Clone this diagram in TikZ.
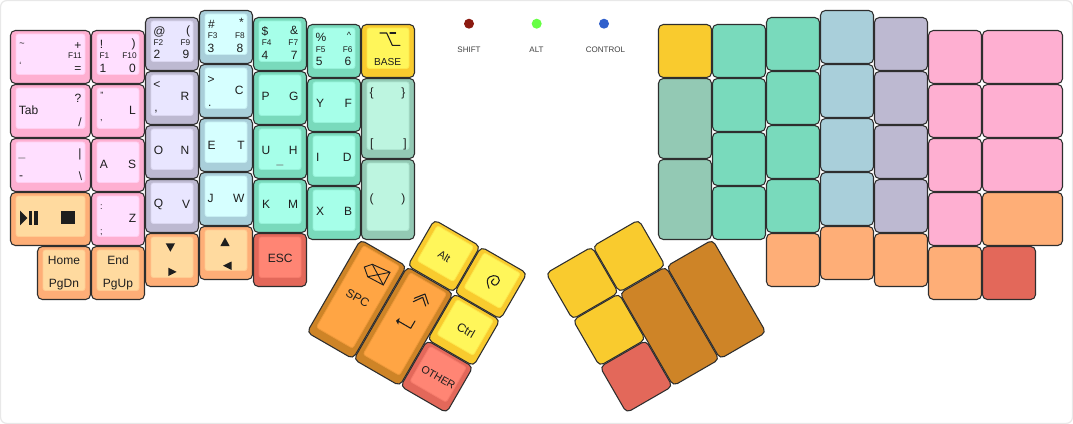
\documentclass[tikz,border=0pt]{standalone}
\usepackage{fontspec}
\setmainfont{Liberation Sans}
\definecolor{pinkO}{HTML}{FEAFD1}\definecolor{pinkI}{HTML}{FFDFFF}
\definecolor{lavO}{HTML}{BDB9D1}\definecolor{lavI}{HTML}{E9E6FF}
\definecolor{bluO}{HTML}{A9CFDA}\definecolor{bluI}{HTML}{D6FFFF}
\definecolor{teaO}{HTML}{79DABC}\definecolor{teaI}{HTML}{A6FFE9}
\definecolor{greO}{HTML}{93C9B4}\definecolor{greI}{HTML}{BDF5E0}
\definecolor{oraO}{HTML}{FEAE77}\definecolor{oraI}{HTML}{FFDA9F}
\definecolor{yelO}{HTML}{F9CB2E}\definecolor{yelI}{HTML}{FFF65A}
\definecolor{redO}{HTML}{E3685A}\definecolor{redI}{HTML}{FF8574}
\definecolor{droO}{HTML}{CE8427}\definecolor{droI}{HTML}{FFA544}
\definecolor{edge}{HTML}{2E2E2E}
\definecolor{ink}{HTML}{1E1E1E}
\definecolor{dotshift}{HTML}{8B1A10}
\definecolor{dotalt}{HTML}{66FF44}
\definecolor{dotctl}{HTML}{3060CC}
\tikzset{
 keybody/.style={draw=edge,line width=0.8pt,rounded corners=3.6pt},
 keycap/.style={rounded corners=1.8pt,line width=0.6pt},
 lbl/.style={inner sep=0pt,text=ink,font=\fontsize{9}{10}\selectfont},
 lbs/.style={inner sep=0pt,text=ink,font=\fontsize{6.2}{7}\selectfont},
 lbt/.style={inner sep=0pt,text=ink,font=\fontsize{6.8}{8}\selectfont},
 lbg/.style={inner sep=0pt,text=black!75,font=\fontsize{6}{7}\selectfont},
 lbf/.style={inner sep=0pt,text=black!55,font=\fontsize{9}{10}\selectfont},
 lbo/.style={inner sep=0pt,text=ink,font=\fontsize{8}{9}\selectfont},
 glyph/.style={line width=0.8pt,draw=ink,line cap=round,line join=round},
}
\newcount\lbc
\newcommand\capbody[3]{%
 \path[keybody,fill=#3O] (0.5,0.5) rectangle (#1-0.5,#2-0.5);
 \path[keycap,fill=#3I,draw=#3I!65!#3O] (6,4) rectangle (#1-6,#2-9.5);
}
\newcommand\plainbody[3]{\path[keybody,fill=#3O] (0.5,0.5) rectangle (#1-0.5,#2-0.5);}
\newcommand\rk[5]{\begin{scope}[shift={(#1,#2)}]\capbody{#3}{#4}{#5}\end{scope}}
\newcommand\rp[5]{\begin{scope}[shift={(#1,#2)}]\plainbody{#3}{#4}{#5}\end{scope}}
\newcommand\tk[5]{\begin{scope}[shift={(#1,#2)},rotate=-30,shift={(-#3/2,-#4/2)}]\capbody{#3}{#4}{#5}\end{scope}}
\newcommand\tp[5]{\begin{scope}[shift={(#1,#2)},rotate=30,shift={(-#3/2,-#4/2)}]\plainbody{#3}{#4}{#5}\end{scope}}
\newcommand\lb[4][lbl]{\global\advance\lbc by 1\node[#1] (n\the\lbc) at (#2,#3) {#4};}
\newcommand\tl[4][lbl]{\global\advance\lbc by 1\node[#1,rotate=-30] (n\the\lbc) at (#2,#3) {#4};}
\begin{document}
\begin{tikzpicture}[x=0.75pt,y=-0.75pt]
\useasboundingbox (0,0) rectangle (1073,424);
\path[fill=white,draw=black!9,line width=0.9pt,rounded corners=4.5pt] (0.6,0.6) rectangle (1072.4,423.4);
% left hand
\rk{10}{30}{81}{54}{pink}\rk{10}{84}{81}{54}{pink}\rk{10}{138}{81}{54}{pink}\rk{10}{192}{81}{54}{ora}
\rk{91}{30}{54}{54}{pink}\rk{91}{84}{54}{54}{pink}\rk{91}{138}{54}{54}{pink}\rk{91}{192}{54}{54}{pink}
\rk{37}{246}{54}{54}{ora}\rk{91}{246}{54}{54}{ora}
\rk{145}{17}{54}{54}{lav}\rk{145}{71}{54}{54}{lav}\rk{145}{125}{54}{54}{lav}\rk{145}{179}{54}{54}{lav}\rk{145}{233}{54}{54}{ora}
\rk{199}{10}{54}{54}{blu}\rk{199}{64}{54}{54}{blu}\rk{199}{118}{54}{54}{blu}\rk{199}{172}{54}{54}{blu}\rk{199}{226}{54}{54}{ora}
\rk{253}{17}{54}{54}{tea}\rk{253}{71}{54}{54}{tea}\rk{253}{125}{54}{54}{tea}\rk{253}{179}{54}{54}{tea}\rk{253}{233}{54}{54}{red}
\rk{307}{24}{54}{54}{tea}\rk{307}{78}{54}{54}{tea}\rk{307}{132}{54}{54}{tea}\rk{307}{186}{54}{54}{tea}
\rk{361}{24}{54}{54}{yel}\rk{361}{78}{54}{81}{gre}\rk{361}{159}{54}{81}{gre}
% left thumb
\tk{356.7}{299.3}{54}{108}{dro}\tk{403.5}{326.3}{54}{108}{dro}
\tk{444}{256}{54}{54}{yel}\tk{490.8}{283}{54}{54}{yel}\tk{463.8}{329.8}{54}{54}{yel}\tk{436.8}{376.6}{54}{54}{red}
% right hand
\rp{658}{24}{54}{54}{yel}\rp{658}{78}{54}{81}{gre}\rp{658}{159}{54}{81}{gre}
\rp{712}{24}{54}{54}{tea}\rp{712}{78}{54}{54}{tea}\rp{712}{132}{54}{54}{tea}\rp{712}{186}{54}{54}{tea}
\rp{766}{17}{54}{54}{tea}\rp{766}{71}{54}{54}{tea}\rp{766}{125}{54}{54}{tea}\rp{766}{179}{54}{54}{tea}\rp{766}{233}{54}{54}{ora}
\rp{820}{10}{54}{54}{blu}\rp{820}{64}{54}{54}{blu}\rp{820}{118}{54}{54}{blu}\rp{820}{172}{54}{54}{blu}\rp{820}{226}{54}{54}{ora}
\rp{874}{17}{54}{54}{lav}\rp{874}{71}{54}{54}{lav}\rp{874}{125}{54}{54}{lav}\rp{874}{179}{54}{54}{lav}\rp{874}{233}{54}{54}{ora}
\rp{928}{30}{54}{54}{pink}\rp{928}{84}{54}{54}{pink}\rp{928}{138}{54}{54}{pink}\rp{928}{192}{54}{54}{pink}\rp{928}{246}{54}{54}{ora}
\rp{982}{30}{81}{54}{pink}\rp{982}{84}{81}{54}{pink}\rp{982}{138}{81}{54}{pink}\rp{982}{192}{81}{54}{ora}\rp{982}{246}{54}{54}{red}
% right thumb
\tp{716.3}{299.3}{54}{108}{dro}\tp{669.5}{326.3}{54}{108}{dro}
\tp{629}{256}{54}{54}{yel}\tp{582.2}{283}{54}{54}{yel}\tp{609.2}{329.8}{54}{54}{yel}\tp{636.2}{376.6}{54}{54}{red}
% legend
\fill[dotshift] (469,23.7) circle (5);
\fill[dotalt] (536.7,23.7) circle (5);
\fill[dotctl] (604,23.7) circle (5);
\lb[lbg]{469}{50}{SHIFT}\lb[lbg]{536.5}{50}{ALT}\lb[lbg]{605.5}{50}{CONTROL}
% labels col 0
\lb[lbt]{22}{44.5}{\textasciitilde}\lb{78}{46}{+}\lb[lbs]{75}{55.5}{F11}\lb[lbt]{20.5}{65}{\char"60}\lb{78}{69.5}{=}
\lb{78}{98.5}{?}\lb{28.5}{110}{Tab}\lb{80}{122.5}{/}
\lb[lbf]{22}{158}{\_}\lb{80}{154}{|}\lb{21}{177.5}{-}\lb{80.5}{176}{\textbackslash}
\fill[ink] (20,210.7)--(27.5,218)--(20,225.3)--cycle;
\fill[ink] (29,211) rectangle (32,225);\fill[ink] (34.3,211) rectangle (37.7,225);
\fill[ink] (61,210.7) rectangle (74.7,224);
% col 1
\lb{101.5}{44.5}{!}\lb{133.5}{44.5}{)}\lb[lbs]{104.5}{56}{F1}\lb[lbs]{129.5}{56}{F10}\lb{103}{68.5}{1}\lb{132.5}{68.5}{0}
\lb[lbt]{102}{95}{\char"22}\lb{132.5}{110.5}{L}\lb[lbt]{101.5}{120.5}{,}
\lb{104}{164}{A}\lb{132}{164}{S}
\lb[lbt]{101.5}{207.5}{:}\lb{132.5}{218}{Z}\lb[lbt]{101.5}{233}{;}
\lb{64}{260.5}{Home}\lb{64}{284.5}{PgDn}\lb{118}{260.5}{End}\lb{118}{284.5}{PgUp}
% col 2
\lb{159.5}{31.5}{@}\lb{188}{31.5}{(}\lb[lbs]{158.5}{43}{F2}\lb[lbs]{185.5}{43}{F9}\lb{157}{54.5}{2}\lb{186}{54.5}{9}
\lb{157}{85}{<}\lb{185}{96}{R}\lb{156}{112}{,}
\lb{158.5}{150.5}{O}\lb{185}{150.5}{N}
\lb{158.5}{204}{Q}\lb{186}{204}{V}
\fill[ink] (165.7,243.3)--(175,243.3)--(170.4,251.7)--cycle;
\fill[ink] (168.3,267.7)--(176.7,271.9)--(168.3,276)--cycle;
% col 3
\lb{211.5}{24.3}{\#}\lb{241.5}{22.8}{*}\lb[lbs]{212.7}{35.7}{F3}\lb[lbs]{240}{35.7}{F8}\lb{211}{48.3}{3}\lb{240}{48.3}{8}
\lb{211}{80}{>}\lb{239.3}{90.7}{C}\lb{209.7}{106}{.}
\lb{211.7}{145}{E}\lb{241}{145}{T}
\lb{210.7}{198.3}{J}\lb{238.7}{198.3}{W}
\fill[ink] (225,237.5)--(229.6,246)--(220.4,246)--cycle;
\fill[ink] (231.5,261.5)--(231.5,270)--(223,265.7)--cycle;
% col 4
\lb{265}{31}{\$}\lb{294}{30.7}{\&}\lb[lbs]{266.7}{42.7}{F4}\lb[lbs]{293.3}{42.7}{F7}\lb{265}{55}{4}\lb{294.3}{55}{7}
\lb{265.7}{96.7}{P}\lb{293.7}{96.7}{G}
\lb{266}{150.7}{U}\lb{293.3}{150.7}{H}\lb[lbf]{280}{165}{\_}
\lb{266}{204.3}{K}\lb{293}{204.3}{M}
\lb{280.3}{258.3}{ESC}
% col 5
\lb{321}{37.7}{\%}\lb[lbt]{349}{35}{\textasciicircum}\lb[lbs]{320.7}{49.7}{F5}\lb[lbs]{347.7}{49.7}{F6}\lb{319.3}{61.3}{5}\lb{348}{61.3}{6}
\lb{320}{103.7}{Y}\lb{348.3}{103.7}{F}
\lb{317.7}{157.3}{I}\lb{347.3}{157.3}{D}
\lb{320}{211}{X}\lb{348}{211}{B}
% col 6
\draw[glyph] (380,33)--(386.7,33)--(392.3,45.3)--(400,45.3);
\draw[glyph] (390,33)--(395.7,33);
\node[lbl,font=\fontsize{7.6}{9}\selectfont] (basel) at (387.7,61.7) {BASE};
\lb{371.7}{93.3}{\{}\lb{403.3}{93.3}{\}}\lb{371.7}{144}{[}\lb{405}{144}{]}
\lb{371.7}{199.3}{(}\lb{403.3}{199.3}{)}
% thumb labels
\tl[lbo]{444.3}{256.3}{Alt}\tl{466}{330}{Ctrl}\tl[lbo]{438.3}{377.3}{OTHER}\tl{357.7}{298.3}{SPC}
\draw[glyph] plot[smooth,tension=0.7] coordinates {(489,288.3) (487.3,281) (489.5,277) (493.3,275.7) (498,277) (499.3,280.5) (496.5,284.7) (493,284.5) (491.5,281.7) (494,279)};
\draw[glyph,line width=0.7pt] (364.3,267)--(372.3,264.3)--(390,272.3)--(383.3,285)--(367.7,276.7)--cycle;
\draw[glyph,line width=0.7pt] (372.3,264.3)--(383.3,285) (390,272.3)--(367.7,276.7);
\draw[glyph] (414.3,298.3)--(425,294)--(428.3,304);
\draw[glyph] (413.3,301.7)--(422.7,297.3)--(425.7,306);
\draw[glyph] (415,321)--(410.7,328.3)--(399,321.5);
\fill[ink] (396,320.7)--(399.6,317.9)--(398.2,324.6)--cycle;
\end{tikzpicture}
\end{document}
